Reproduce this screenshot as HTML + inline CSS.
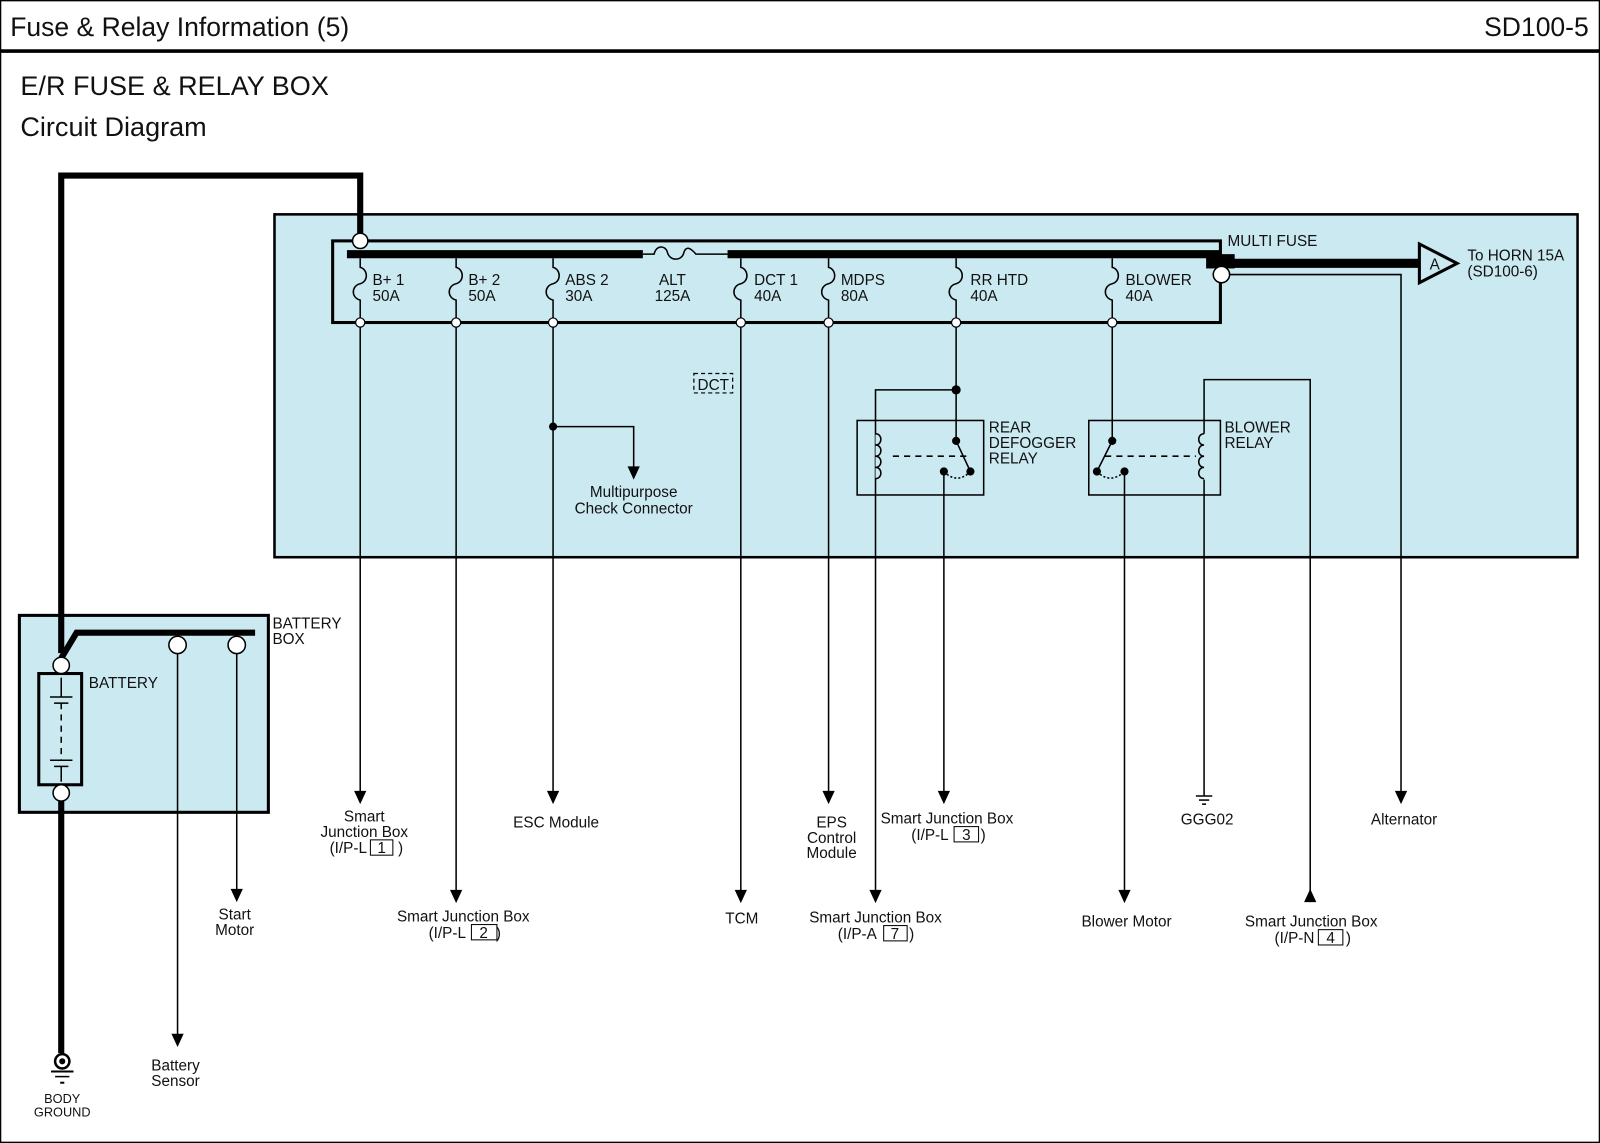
<!DOCTYPE html>
<html><head><meta charset="utf-8"><style>
html,body{margin:0;padding:0;background:#fff}
svg{display:block}
text{font-family:"Liberation Sans",Arial,sans-serif;fill:#111}
</style></head><body>
<svg width="1600" height="1143" viewBox="0 0 1568 1120" xmlns="http://www.w3.org/2000/svg">
<rect x="0.5" y="0.5" width="1567" height="1119" fill="#fff" stroke="#000" stroke-width="1.5"/>
<line x1="0" y1="50" x2="1568" y2="50" stroke="#000" stroke-width="3.5"/>
<text x="10" y="35" font-size="26">Fuse &amp; Relay Information (5)</text>
<text x="1557" y="35" font-size="26" text-anchor="end">SD100-5</text>
<text x="20" y="93" font-size="26.5">E/R FUSE &amp; RELAY BOX</text>
<text x="20" y="133" font-size="26.5">Circuit Diagram</text>

<rect x="269" y="210" width="1277" height="336" fill="#cbe9f1" stroke="#000" stroke-width="2.5"/>
<rect x="19" y="603" width="244" height="193" fill="#cbe9f1" stroke="#000" stroke-width="3"/>

<polyline points="60,640 60,172 353,172 353,230" fill="none" stroke="#000" stroke-width="6"/>
<line x1="60" y1="785" x2="60" y2="1032" stroke="#000" stroke-width="6"/>
<polyline points="60,645 75,620 250,620" fill="none" stroke="#000" stroke-width="6"/>

<rect x="326" y="236" width="870" height="80" fill="none" stroke="#000" stroke-width="3"/>
<line x1="340" y1="249" x2="630" y2="249" stroke="#000" stroke-width="8"/>
<line x1="713" y1="249" x2="1196" y2="249" stroke="#000" stroke-width="8"/>
<path d="M630,249 H641 C643,240 652,240 654,247 C656,256 668,256 670,248 C672,241 676,242 682,249 H713" fill="none" stroke="#000" stroke-width="1.5"/>
<rect x="1182" y="249" width="28" height="14" fill="#000"/>
<line x1="1196" y1="258" x2="1392" y2="258" stroke="#000" stroke-width="9"/>
<polygon points="1391,239 1391,277 1428,258" fill="#cbe9f1" stroke="#000" stroke-width="3"/>
<text x="1401" y="264" font-size="15">A</text>
<text x="1438" y="255" font-size="15">To HORN 15A</text>
<text x="1438" y="271" font-size="15">(SD100-6)</text>
<text x="1203" y="241" font-size="15">MULTI FUSE</text>
<polyline points="1197,276 1197,269 1373,269 1373,778" fill="none" stroke="#000" stroke-width="1.5"/>
<polygon points="1367,775 1379,775 1373,788" fill="#000"/>
<text x="1376" y="808" font-size="15" text-anchor="middle">Alternator</text>
<circle cx="1197" cy="269" r="8" fill="#fff" stroke="#000" stroke-width="1.5"/>
<circle cx="353" cy="236" r="7.5" fill="#fff" stroke="#000" stroke-width="1.5"/>

<g fill="none" stroke="#000" stroke-width="1.5">
<path d="M353,253 V262 c8,2 8,14 0,16 c-9,2 -9,14 0,16 V316"/>
<path d="M447,253 V262 c8,2 8,14 0,16 c-9,2 -9,14 0,16 V316"/>
<path d="M542,253 V262 c8,2 8,14 0,16 c-9,2 -9,14 0,16 V316"/>
<path d="M726,253 V262 c8,2 8,14 0,16 c-9,2 -9,14 0,16 V316"/>
<path d="M812,253 V262 c8,2 8,14 0,16 c-9,2 -9,14 0,16 V316"/>
<path d="M937,253 V262 c8,2 8,14 0,16 c-9,2 -9,14 0,16 V316"/>
<path d="M1090,253 V262 c8,2 8,14 0,16 c-9,2 -9,14 0,16 V316"/>
</g>
<g font-size="15">
<text x="365" y="279">B+ 1</text><text x="365" y="295">50A</text>
<text x="459" y="279">B+ 2</text><text x="459" y="295">50A</text>
<text x="554" y="279">ABS 2</text><text x="554" y="295">30A</text>
<text x="659" y="279" text-anchor="middle">ALT</text><text x="659" y="295" text-anchor="middle">125A</text>
<text x="739" y="279">DCT 1</text><text x="739" y="295">40A</text>
<text x="824" y="279">MDPS</text><text x="824" y="295">80A</text>
<text x="951" y="279">RR HTD</text><text x="951" y="295">40A</text>
<text x="1103" y="279">BLOWER</text><text x="1103" y="295">40A</text>
</g>

<g fill="none" stroke="#000" stroke-width="1.5">
<line x1="353" y1="316" x2="353" y2="778"/>
<line x1="447" y1="316" x2="447" y2="874"/>
<line x1="542" y1="316" x2="542" y2="778"/>
<polyline points="542,418 621,418 621,460"/>
<line x1="726" y1="316" x2="726" y2="874"/>
<line x1="812" y1="316" x2="812" y2="778"/>
<polyline points="937,316 937,432 951,462"/>
<polyline points="937,382 858,382 858,874"/>
<line x1="925" y1="462" x2="925" y2="778"/>
<rect x="840" y="412" width="124" height="73"/>
<path d="M858,425 c7,0 7,11 0,11 c7,0 7,11 0,11 c7,0 7,11 0,11 c7,0 7,11 0,11" fill="#cbe9f1"/>
<line x1="875" y1="447" x2="950" y2="447" stroke-dasharray="6,5"/>
<path d="M925,462 Q938,475 951,462" stroke-dasharray="2,2"/>
<polyline points="1090,316 1090,432 1075,462"/>
<line x1="1102" y1="462" x2="1102" y2="874"/>
<rect x="1067" y="412" width="129" height="73"/>
<path d="M1180,425 c-7,0 -7,11 0,11 c-7,0 -7,11 0,11 c-7,0 -7,11 0,11 c-7,0 -7,11 0,11" fill="#cbe9f1"/>
<line x1="1083" y1="447" x2="1172" y2="447" stroke-dasharray="6,5"/>
<path d="M1075,462 Q1088,475 1102,462" stroke-dasharray="2,2"/>
<polyline points="1180,425 1180,372 1284,372 1284,884"/>
<line x1="1180" y1="470" x2="1180" y2="780"/>
<line x1="1172" y1="780" x2="1188" y2="780"/>
<line x1="1175" y1="784" x2="1185" y2="784"/>
<line x1="1178" y1="788" x2="1182" y2="788"/>
<line x1="174" y1="632" x2="174" y2="1015"/>
<line x1="232" y1="632" x2="232" y2="873"/>
<rect x="680" y="366" width="38" height="19" stroke-dasharray="4,3" stroke-width="1.2"/>
</g>
<g fill="#000">
<polygon points="347,775 359,775 353,788"/>
<polygon points="441,872 453,872 447,885"/>
<polygon points="536,775 548,775 542,788"/>
<polygon points="615,457 627,457 621,470"/>
<polygon points="720,872 732,872 726,885"/>
<polygon points="806,775 818,775 812,788"/>
<polygon points="852,872 864,872 858,885"/>
<polygon points="919,775 931,775 925,788"/>
<polygon points="1096,872 1108,872 1102,885"/>
<polygon points="1278,884 1290,884 1284,871"/>
<polygon points="168,1013 180,1013 174,1026"/>
<polygon points="226,871 238,871 232,884"/>
<circle cx="542" cy="418" r="4"/>
<circle cx="937" cy="382" r="4.5"/>
<circle cx="937" cy="432" r="4"/>
<circle cx="951" cy="462" r="4"/>
<circle cx="925" cy="462" r="4"/>
<circle cx="1090" cy="432" r="4"/>
<circle cx="1075" cy="462" r="4"/>
<circle cx="1102" cy="462" r="4"/>
</g>
<g fill="#fff" stroke="#000" stroke-width="1.2">
<circle cx="353" cy="316" r="4.5"/><circle cx="447" cy="316" r="4.5"/><circle cx="542" cy="316" r="4.5"/>
<circle cx="726" cy="316" r="4.5"/><circle cx="812" cy="316" r="4.5"/><circle cx="937" cy="316" r="4.5"/>
<circle cx="1090" cy="316" r="4.5"/>
</g>
<text x="699" y="382" font-size="15" text-anchor="middle">DCT</text>
<g font-size="15">
<text x="969" y="424">REAR</text><text x="969" y="439">DEFOGGER</text><text x="969" y="454">RELAY</text>
<text x="1200" y="424">BLOWER</text><text x="1200" y="439">RELAY</text>
</g>

<g fill="#fff" stroke="#000" stroke-width="1.5">
<circle cx="174" cy="632" r="8.5"/><circle cx="232" cy="632" r="8.5"/>
</g>
<rect x="38" y="660" width="42" height="109" fill="#cbe9f1" stroke="#000" stroke-width="3"/>
<g stroke="#000" stroke-width="1.5" fill="none">
<line x1="49" y1="683" x2="71" y2="683"/><line x1="53" y1="689" x2="67" y2="689"/>
<line x1="60" y1="664" x2="60" y2="683"/>
<line x1="60" y1="689" x2="60" y2="745" stroke-dasharray="6,5"/>
<line x1="49" y1="745" x2="71" y2="745"/><line x1="53" y1="751" x2="67" y2="751"/>
<line x1="60" y1="751" x2="60" y2="766"/>
</g>
<g fill="#fff" stroke="#000" stroke-width="1.5">
<circle cx="60" cy="652" r="8"/><circle cx="60" cy="777" r="8"/>
</g>
<text x="87" y="674" font-size="15">BATTERY</text>
<text x="267" y="616" font-size="15">BATTERY</text><text x="267" y="631" font-size="15">BOX</text>
<circle cx="61" cy="1040" r="7" fill="#fff" stroke="#000" stroke-width="2.5"/>
<circle cx="61" cy="1040" r="3" fill="#000"/>
<line x1="50" y1="1050" x2="72" y2="1050" stroke="#000" stroke-width="2"/>
<line x1="54" y1="1055" x2="68" y2="1055" stroke="#000" stroke-width="1.5"/>
<line x1="59" y1="1061" x2="63" y2="1061" stroke="#000" stroke-width="2"/>
<text x="61" y="1081" font-size="12.5" text-anchor="middle">BODY</text>
<text x="61" y="1094" font-size="12.5" text-anchor="middle">GROUND</text>

<g font-size="15" text-anchor="middle">
<text x="172" y="1049">Battery</text><text x="172" y="1064">Sensor</text>
<text x="230" y="901">Start</text><text x="230" y="916">Motor</text>
<text x="357" y="805">Smart</text><text x="357" y="820">Junction Box</text>
<text x="323" y="836" text-anchor="start">(I/P-L</text><text x="374" y="836">1</text><text x="390" y="836" text-anchor="start">)</text>
<text x="454" y="903">Smart Junction Box</text>
<text x="420" y="919" text-anchor="start">(I/P-L</text><text x="474" y="919">2</text><text x="486" y="919" text-anchor="start">)</text>
<text x="545" y="811">ESC Module</text>
<text x="621" y="487">Multipurpose</text><text x="621" y="503">Check Connector</text>
<text x="727" y="905">TCM</text>
<text x="815" y="811">EPS</text><text x="815" y="826">Control</text><text x="815" y="841">Module</text>
<text x="928" y="807">Smart Junction Box</text>
<text x="893" y="823" text-anchor="start">(I/P-L</text><text x="947" y="823">3</text><text x="961" y="823" text-anchor="start">)</text>
<text x="858" y="904">Smart Junction Box</text>
<text x="821" y="920" text-anchor="start">(I/P-A</text><text x="877" y="920">7</text><text x="891" y="920" text-anchor="start">)</text>
<text x="1104" y="908">Blower Motor</text>
<text x="1183" y="808">GGG02</text>
<text x="1285" y="908">Smart Junction Box</text>
<text x="1249" y="924" text-anchor="start">(I/P-N</text><text x="1304" y="924">4</text><text x="1319" y="924" text-anchor="start">)</text>
</g>
<g fill="none" stroke="#000" stroke-width="1">
<rect x="363" y="823" width="22" height="15"/>
<rect x="462" y="906" width="25" height="15"/>
<rect x="935" y="810" width="24" height="15"/>
<rect x="866" y="907" width="23" height="15"/>
<rect x="1292" y="911" width="24" height="15"/>
</g>
</svg>
</body></html>
